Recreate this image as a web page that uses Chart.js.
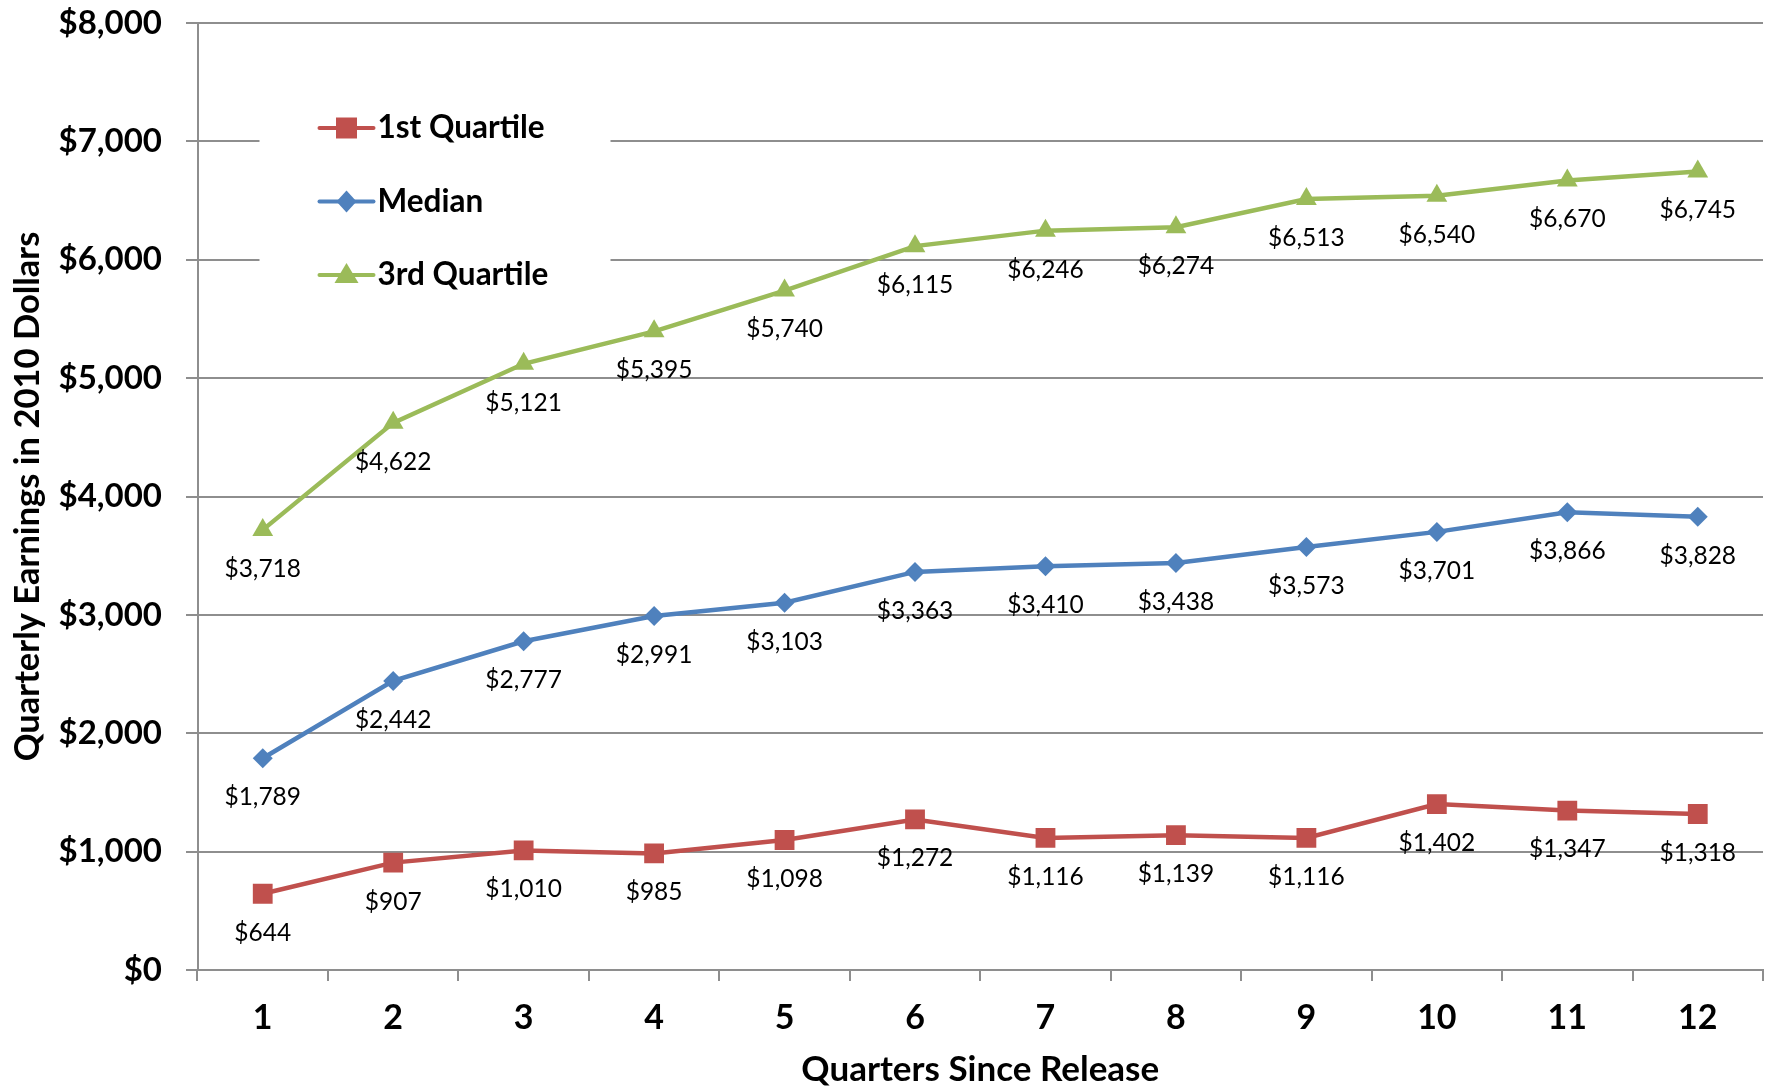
<!DOCTYPE html>
<html lang="en">
<head>
    <meta charset="UTF-8">
    <title>Quarterly Earnings Since Release</title>
    <script src="https://cdn.jsdelivr.net/npm/chart.js"></script>
    <style>
        html, body { margin: 0; padding: 0; background: #fff; overflow: hidden; }
        #wrap { width: 1765px; height: 1092px; }
        canvas { display: block; }
    </style>
</head>
<body>
<div id="wrap">
    <canvas id="earningsChart" width="1765" height="1092"></canvas>
</div>
<script>
    // data
    const quarters = ['1', '2', '3', '4', '5', '6', '7', '8', '9', '10', '11', '12'];
    const firstQuartile = [644, 907, 1010, 985, 1098, 1272, 1116, 1139, 1116, 1402, 1347, 1318];
    const median = [1789, 2442, 2777, 2991, 3103, 3363, 3410, 3438, 3573, 3701, 3866, 3828];
    const thirdQuartile = [3718, 4622, 5121, 5395, 5740, 6115, 6246, 6274, 6513, 6540, 6670, 6745];
    const seriesNames = ['1st Quartile', 'Median', '3rd Quartile'];
    const yTicks = [0, 1000, 2000, 3000, 4000, 5000, 6000, 7000, 8000];

    const RED = '#C0504D';
    const BLUE = '#4F81BD';
    const GREEN = '#9BBB59';
    const GRID = '#8e8e8e';
    const FONT = 'Lato, "Open Sans", sans-serif';

    function money(v) {
        return '$' + Number(v).toLocaleString('en-US');
    }

    // value labels under every point
    const valueLabels = {
        id: 'valueLabels',
        afterDatasetsDraw(chart) {
            const ctx = chart.ctx;
            ctx.save();
            ctx.font = '24.5px ' + FONT;
            ctx.fillStyle = '#000';
            ctx.textAlign = 'center';
            ctx.textBaseline = 'middle';
            chart.data.datasets.forEach((ds, i) => {
                chart.getDatasetMeta(i).data.forEach((pt, j) => {
                    ctx.fillText(money(ds.data[j]), pt.x, pt.y + 39);
                });
            });
            ctx.restore();
        }
    };

    // legend sits inside the plot on a white box
    function marker(ctx, style, x, y, color) {
        ctx.fillStyle = color;
        ctx.beginPath();
        if (style === 'rect') {
            ctx.rect(x - 10.5, y - 10.5, 21, 21);
        } else if (style === 'rectRot') {
            ctx.moveTo(x, y - 11);
            ctx.lineTo(x + 10, y);
            ctx.lineTo(x, y + 11);
            ctx.lineTo(x - 10, y);
        } else {
            ctx.moveTo(x, y - 12);
            ctx.lineTo(x + 12, y + 8);
            ctx.lineTo(x - 12, y + 8);
        }
        ctx.closePath();
        ctx.fill();
    }

    const insideLegend = {
        id: 'insideLegend',
        beforeDatasetsDraw(chart) {
            const ctx = chart.ctx;
            const a = chart.chartArea;
            const bx = a.left + 62;
            ctx.save();
            ctx.fillStyle = '#fff';
            ctx.fillRect(bx, a.top + 70, 351, 230);
            ctx.font = 'bold 31.5px ' + FONT;
            ctx.textBaseline = 'middle';
            ctx.textAlign = 'left';
            chart.data.datasets.forEach((ds, i) => {
                const y = a.top + 105 + i * 73.5;
                ctx.strokeStyle = ds.borderColor;
                ctx.lineWidth = 4;
                ctx.lineCap = 'round';
                ctx.beginPath();
                ctx.moveTo(bx + 60, y);
                ctx.lineTo(bx + 114, y);
                ctx.stroke();
                marker(ctx, ds.pointStyle, bx + 87, y, ds.borderColor);
                ctx.fillStyle = '#000';
                ctx.fillText(ds.label, bx + 118, y);
            });
            ctx.restore();
        }
    };

    function makeSeries(label, values, color, style, radius) {
        return {
            label: label,
            data: values,
            borderColor: color,
            backgroundColor: color,
            pointBackgroundColor: color,
            pointBorderColor: color,
            pointBorderWidth: 0,
            borderWidth: 4.5,
            pointStyle: style,
            pointRadius: radius,
            pointHoverRadius: radius,
            tension: 0,
            fill: false
        };
    }

    function drawChart() {
        const ctx = document.getElementById('earningsChart').getContext('2d');
        new Chart(ctx, {
            type: 'line',
            data: {
                labels: quarters,
                datasets: [
                    makeSeries(seriesNames[0], firstQuartile, RED, 'rect', 14),
                    makeSeries(seriesNames[1], median, BLUE, 'rectRot', 10),
                    makeSeries(seriesNames[2], thirdQuartile, GREEN, 'triangle', 12)
                ]
            },
            options: {
                responsive: false,
                animation: false,
                layout: {
                    autoPadding: false,
                    padding: { top: 23, right: 2, bottom: 0, left: 0 }
                },
                plugins: {
                    legend: { display: false },
                    tooltip: { enabled: false }
                },
                scales: {
                    x: {
                        type: 'category',
                        offset: true,
                        afterFit: s => {
                            s.height = 122;
                            s.paddingLeft = 0;
                            s.paddingRight = 0;
                        },
                        grid: {
                            offset: true,
                            drawOnChartArea: false,
                            drawTicks: true,
                            tickLength: 11,
                            color: GRID,
                            lineWidth: 2
                        },
                        border: { color: GRID, width: 2 },
                        ticks: {
                            padding: 16.5,
                            color: '#000',
                            font: { family: FONT, size: 34, weight: 'bold' }
                        },
                        title: {
                            display: true,
                            text: 'Quarters Since Release',
                            color: '#000',
                            padding: { top: 0, bottom: 1.5 },
                            font: { family: FONT, size: 35, weight: 'bold' }
                        }
                    },
                    y: {
                        min: 0,
                        max: 8000,
                        afterFit: s => {
                            s.width = 197.5;
                            s.paddingTop = 0;
                            s.paddingBottom = 0;
                        },
                        afterBuildTicks: s => { s.ticks = yTicks.map(v => ({ value: v })); },
                        grid: {
                            color: GRID,
                            lineWidth: 2,
                            drawTicks: true,
                            tickLength: 11.5
                        },
                        border: { color: GRID, width: 2 },
                        ticks: {
                            padding: 24,
                            color: '#000',
                            callback: v => money(v),
                            font: { family: FONT, size: 33, weight: 'bold' }
                        },
                        title: {
                            display: true,
                            text: 'Quarterly Earnings in 2010 Dollars',
                            color: '#000',
                            padding: { top: 7.5, bottom: 0 },
                            font: { family: FONT, size: 34.5, weight: 'bold' }
                        }
                    }
                }
            },
            plugins: [insideLegend, valueLabels]
        });
    }

    Promise.all([
        document.fonts.load('bold 30px Lato'),
        document.fonts.load('24px Lato')
    ]).then(drawChart, drawChart);
</script>
</body>
</html>
